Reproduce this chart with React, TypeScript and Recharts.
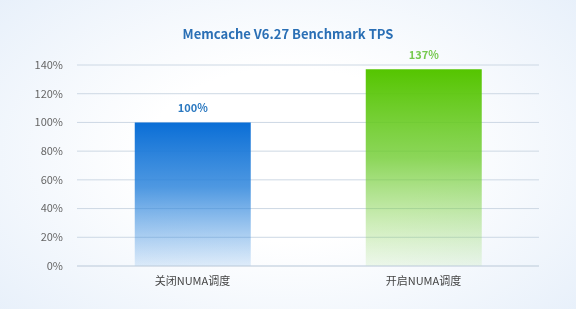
import { Bar, BarChart, CartesianGrid, Cell, LabelList, XAxis, YAxis } from 'recharts';

const categories = ['关闭NUMA调度', '开启NUMA调度'];
const tpsValues = [100, 137];
const yTicks = [0, 20, 40, 60, 80, 100, 120, 140];

const data = categories.map((name, i) => ({ name, value: tpsValues[i] }));

const FONT = '"Noto Sans CJK SC", "Noto Sans", sans-serif';
const LABEL_COLORS = ['#2a78c0', '#76c94f'];

export default function App() {
  return (
    <div
      style={{
        position: 'fixed',
        left: 0,
        top: 0,
        width: 576,
        height: 309,
        overflow: 'hidden',
        fontFamily: FONT,
        background: 'radial-gradient(ellipse 70% 80% at 50% 50%, #ffffff 35%, #e6effa 100%)',
      }}
    >
      <div
        style={{
          position: 'absolute',
          top: 24,
          left: 0,
          width: 576,
          textAlign: 'center',
          fontSize: 13,
          fontWeight: 700,
          color: '#2a6fb5',
        }}
      >
        Memcache V6.27 Benchmark TPS
      </div>
      <BarChart
        width={576}
        height={309}
        data={data}
        margin={{ top: 65, right: 37, bottom: 13, left: 0 }}
        barCategoryGap="25%"
      >
        <defs>
          <linearGradient id="blueGrad" x1="0" y1="0" x2="0" y2="1">
            <stop offset="0%" stopColor="#0a6ed6" stopOpacity={1} />
            <stop offset="45%" stopColor="#2f86dc" stopOpacity={0.85} />
            <stop offset="100%" stopColor="#3d8fe0" stopOpacity={0.15} />
          </linearGradient>
          <linearGradient id="greenGrad" x1="0" y1="0" x2="0" y2="1">
            <stop offset="0%" stopColor="#55c500" stopOpacity={1} />
            <stop offset="45%" stopColor="#6fcc30" stopOpacity={0.8} />
            <stop offset="100%" stopColor="#8ad45a" stopOpacity={0.12} />
          </linearGradient>
        </defs>
        <CartesianGrid vertical={false} stroke="#cdd8e4" />
        <XAxis
          dataKey="name"
          height={30}
          axisLine={{ stroke: '#cdd8e4' }}
          tickLine={false}
          tickMargin={5}
          tick={{ fill: '#444', fontSize: 11, fontFamily: FONT }}
        />
        <YAxis
          width={77}
          domain={[0, 140]}
          ticks={yTicks}
          axisLine={false}
          tickLine={false}
          tickMargin={8}
          tickFormatter={(v: number) => `${v}%`}
          tick={{ fill: '#666', fontSize: 11, fontFamily: FONT }}
        />
        <Bar dataKey="value" isAnimationActive={false}>
          <Cell fill="url(#blueGrad)" />
          <Cell fill="url(#greenGrad)" />
          <LabelList
            dataKey="value"
            position="top"
            content={(props: any) => {
              const { x, y, width, value, index } = props;
              return (
                <text
                  x={x + width / 2}
                  y={y - 10}
                  textAnchor="middle"
                  fontSize={11}
                  fontWeight={700}
                  fontFamily={FONT}
                  fill={LABEL_COLORS[index] ?? '#2a78c0'}
                >
                  {`${value}%`}
                </text>
              );
            }}
          />
        </Bar>
      </BarChart>
    </div>
  );
}
